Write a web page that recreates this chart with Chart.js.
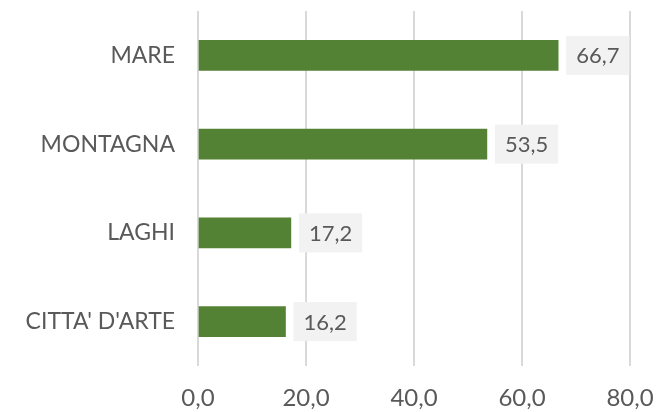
<!DOCTYPE html>
<html>
<head>
<meta charset="utf-8">
<script src="https://cdn.jsdelivr.net/npm/chart.js@4.4.1/dist/chart.umd.min.js"></script>
<style>
  html, body { margin: 0; padding: 0; background: #ffffff; }
  #wrap { width: 661px; height: 412px; position: relative; }
</style>
</head>
<body>
<div id="wrap"><canvas id="c" width="661" height="412"></canvas></div>
<script>
const categories = ["MARE", "MONTAGNA", "LAGHI", "CITTA' D'ARTE"];
const values = [66.7, 53.5, 17.2, 16.2];
const valueLabels = ["66,7", "53,5", "17,2", "16,2"];
const tickLabels = ["0,0", "20,0", "40,0", "60,0", "80,0"];

const FONT = "Lato";
const TEXT = "#595959";

const labelBoxes = {
  id: 'labelBoxes',
  afterDatasetsDraw(chart) {
    const ctx = chart.ctx;
    const meta = chart.getDatasetMeta(0);
    ctx.save();
    ctx.font = "22px " + FONT;
    meta.data.forEach((bar, i) => {
      const txt = valueLabels[i];
      const tw = ctx.measureText(txt).width;
      const w = tw + 20;
      const h = 39;
      const x0 = bar.x + 8;
      const y0 = bar.y - h / 2;
      ctx.fillStyle = "#f2f2f2";
      ctx.fillRect(x0, y0, w, h);
      ctx.fillStyle = TEXT;
      ctx.textAlign = "center";
      ctx.textBaseline = "middle";
      ctx.fillText(txt, x0 + w / 2, bar.y + 1);
    });
    ctx.restore();
  }
};

new Chart(document.getElementById('c'), {
  type: 'bar',
  data: {
    labels: categories,
    datasets: [{
      data: values,
      backgroundColor: "#548235",
      borderWidth: 0,
      barThickness: 30
    }]
  },
  options: {
    indexAxis: 'y',
    responsive: false,
    animation: false,
    layout: { padding: { top: 11, right: 31, left: 0, bottom: 0 } },
    plugins: { legend: { display: false }, tooltip: { enabled: false } },
    scales: {
      x: {
        min: 0, max: 80,
        ticks: {
          stepSize: 20,
          color: TEXT,
          font: { family: FONT, size: 24 },
          padding: 18,
          maxRotation: 0,
          callback: (v, i) => tickLabels[i]
        },
        grid: { color: "#d9d9d9", lineWidth: 2, drawTicks: false },
        border: { display: false },
        afterFit(scale) {
          scale.height = 46;
          scale.paddingLeft = 0; scale.paddingRight = 0;
        }
      },
      y: {
        ticks: {
          color: TEXT,
          font: { family: FONT, size: 23 },
          padding: 23
        },
        grid: { display: false, drawTicks: false },
        border: { display: false },
        afterFit(scale) {
          scale.width = 198;
          scale.paddingTop = 0; scale.paddingBottom = 0;
        }
      }
    }
  },
  plugins: [labelBoxes]
});
</script>
</body>
</html>
